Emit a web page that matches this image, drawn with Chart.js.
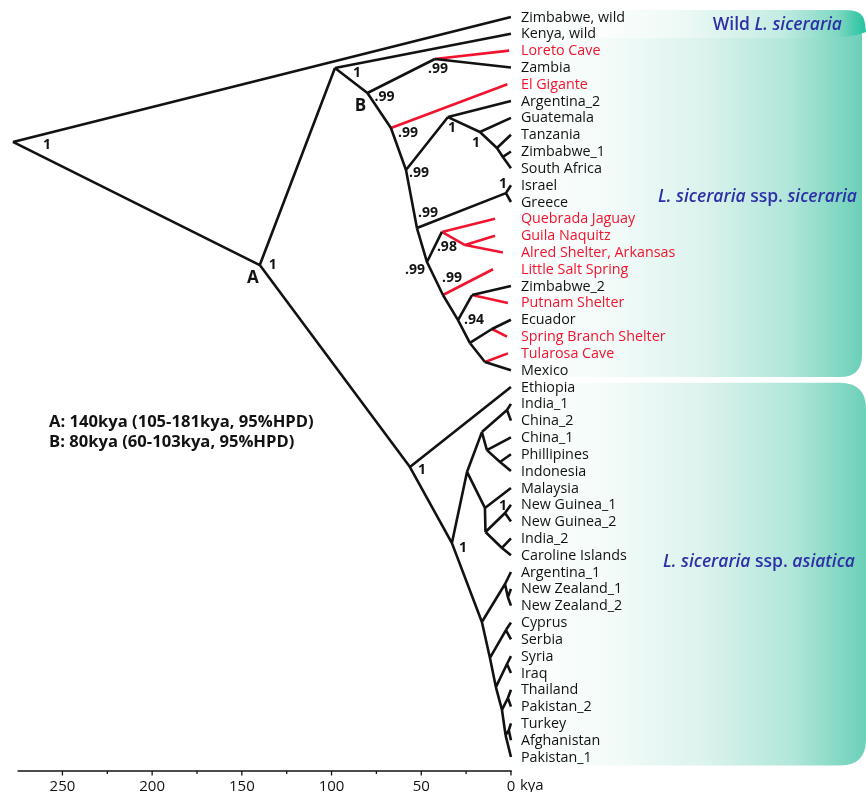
<!DOCTYPE html>
<html>
<head>
<meta charset="utf-8">
<script src="https://cdn.jsdelivr.net/npm/chart.js@4.4.1/dist/chart.umd.min.js"></script>
<style>
  html, body { margin: 0; padding: 0; background: #ffffff; overflow: hidden; }
  #wrap { width: 866px; height: 792px; }
</style>
</head>
<body>
<div id="wrap"><canvas id="tree" width="866" height="792"></canvas></div>
<script>
// ---- Tips, listed top to bottom ----
const tipNames = [
  'Zimbabwe, wild', 'Kenya, wild', 'Loreto Cave', 'Zambia', 'El Gigante', 'Argentina_2',
  'Guatemala', 'Tanzania', 'Zimbabwe_1', 'South Africa', 'Israel', 'Greece',
  'Quebrada Jaguay', 'Guila Naquitz', 'Alred Shelter, Arkansas', 'Little Salt Spring',
  'Zimbabwe_2', 'Putnam Shelter', 'Ecuador', 'Spring Branch Shelter', 'Tularosa Cave', 'Mexico',
  'Ethiopia', 'India_1', 'China_2', 'China_1', 'Phillipines', 'Indonesia', 'Malaysia',
  'New Guinea_1', 'New Guinea_2', 'India_2', 'Caroline Islands', 'Argentina_1',
  'New Zealand_1', 'New Zealand_2', 'Cyprus', 'Serbia', 'Syria', 'Iraq', 'Thailand',
  'Pakistan_2', 'Turkey', 'Afghanistan', 'Pakistan_1'
];

// Archaeological samples and their ages (kya); all other tips are modern (0 kya)
const ancientTips = [
  'Loreto Cave', 'El Gigante', 'Quebrada Jaguay', 'Guila Naquitz', 'Alred Shelter, Arkansas',
  'Little Salt Spring', 'Putnam Shelter', 'Spring Branch Shelter', 'Tularosa Cave'
];
const ancientAges = [1.0, 2.0, 8.9, 8.9, 4.5, 10.0, 1.7, 2.2, 1.7];

// ---- Internal nodes: age (kya), vertical position (tip-row units), children ----
const nodeIds = [
  'root', 'A', 'K', 'B', 'LZ', 'S1', 'S2', 'G1', 'G2', 'G3', 'G4', 'S3', 'IG', 'S4', 'Q', 'GA',
  'S5', 'S6', 'ZP', 'S7', 'ES', 'S8',
  'E', 'F', 'H', 'I', 'IC', 'J', 'PI', 'M', 'N', 'NG', 'IC2',
  'P', 'Q2', 'NZ', 'R1', 'CS', 'R2', 'SI', 'R3', 'TP', 'R4', 'TA'
];
const nodeAges = [
  277.6, 140, 98.1, 80, 42.4, 66.9, 58.5, 35.1, 17.3, 7.8, 4.5, 52.4, 2.8, 46.8, 38.5, 25.6,
  37.9, 29.5, 21.7, 22.9, 10.6, 14.5,
  56.3, 32.9, 24.5, 16.2, 2.2, 13.4, 6.1, 14.5, 14.2, 3.3, 5.0,
  16.2, 3.3, 1.7, 11.7, 2.8, 8.4, 2.2, 5.0, 1.7, 3.0, 1.2
];
const nodeRows = [
  7.43, 14.75, 3.03, 4.52, 2.5, 6.6, 9.1, 5.95, 6.84, 7.79, 8.32, 12.55, 10.47, 14.57, 12.78, 13.56,
  16.53, 18.02, 16.53, 19.38, 18.55, 20.51,
  26.76, 31.28, 27.05, 24.68, 23.37, 25.75, 26.46, 29.19, 30.62, 29.49, 31.57,
  35.97, 33.71, 34.5, 38.11, 36.45, 39.84, 38.47, 41.2, 40.49, 42.7, 42.4
];
const nodeChildren = [
  ['Zimbabwe, wild', 'A'], ['K', 'E'], ['Kenya, wild', 'B'], ['LZ', 'S1'],
  ['Loreto Cave', 'Zambia'], ['El Gigante', 'S2'], ['G1', 'S3'], ['Argentina_2', 'G2'],
  ['Guatemala', 'G3'], ['Tanzania', 'G4'], ['Zimbabwe_1', 'South Africa'], ['IG', 'S4'],
  ['Israel', 'Greece'], ['Q', 'S5'], ['Quebrada Jaguay', 'GA'],
  ['Guila Naquitz', 'Alred Shelter, Arkansas'], ['Little Salt Spring', 'S6'], ['ZP', 'S7'],
  ['Zimbabwe_2', 'Putnam Shelter'], ['ES', 'S8'], ['Ecuador', 'Spring Branch Shelter'],
  ['Tularosa Cave', 'Mexico'],
  ['Ethiopia', 'F'], ['H', 'P'], ['I', 'M'], ['IC', 'J'], ['India_1', 'China_2'],
  ['China_1', 'PI'], ['Phillipines', 'Indonesia'], ['Malaysia', 'N'], ['NG', 'IC2'],
  ['New Guinea_1', 'New Guinea_2'], ['India_2', 'Caroline Islands'],
  ['Q2', 'R1'], ['Argentina_1', 'NZ'], ['New Zealand_1', 'New Zealand_2'], ['CS', 'R2'],
  ['Cyprus', 'Serbia'], ['SI', 'R3'], ['Syria', 'Iraq'], ['TP', 'R4'],
  ['Thailand', 'Pakistan_2'], ['TA', 'Pakistan_1'], ['Turkey', 'Afghanistan']
];
// Posterior support shown at nodes
const nodeSupport = [
  '1', '1', '1', '.99', '.99', '.99', '.99', '1', '1', '', '', '.99', '1', '.99', '.98', '',
  '.99', '.94', '', '', '', '',
  '1', '1', '', '', '', '', '', '', '', '1', '',
  '', '', '', '', '', '', '', '', '', '', ''
];
const namedNodes = ['A', 'B'];

// Time axis (kya)
const axisTicks = [0, 25, 50, 75, 100, 125, 150, 175, 200, 225, 250];
const axisLabels = ['0', '', '50', '', '100', '', '150', '', '200', '', '250'];
const axisStartKya = 275;

// Clade boxes: first and last tip row of each
const groupLabels = [
  [['Wild ', false], ['L. siceraria', true]],
  [['L. siceraria', true], [' ssp. ', false], ['siceraria', true]],
  [['L. siceraria', true], [' ssp. ', false], ['asiatica', true]]
];
const groupFirstRow = [0, 2, 22];
const groupLastRow = [1, 21, 44];

const datingNotes = ['A: 140kya (105-181kya, 95%HPD)', 'B: 80kya (60-103kya, 95%HPD)'];

// ---- Build branch segments ----
const isNode = id => nodeIds.indexOf(id) >= 0;
function place(id) {
  const n = nodeIds.indexOf(id);
  if (n >= 0) return { x: nodeAges[n], y: nodeRows[n] };
  const a = ancientTips.indexOf(id);
  return { x: a >= 0 ? ancientAges[a] : 0, y: tipNames.indexOf(id) };
}
function allAncient(id) {
  const n = nodeIds.indexOf(id);
  if (n < 0) return ancientTips.indexOf(id) >= 0;
  return nodeChildren[n].every(allAncient);
}
const blackSegs = [], redSegs = [];
nodeIds.forEach((id, i) => {
  nodeChildren[i].forEach(ch => {
    const red = isNode(ch) ? (allAncient(ch) && allAncient(id)) : ancientTips.indexOf(ch) >= 0;
    (red ? redSegs : blackSegs).push(place(id), place(ch), { x: null, y: null });
  });
});

const INK = '#121212';
const RED = '#f2142e';
const BLUE = '#2e2fa6';
const SANS = '"Open Sans", "Noto Sans", sans-serif';

// Pixel offsets of support values and node letters from their nodes
const supportOffset = {
  root: [34, 3], A: [13, 0], K: [22, 5], B: [17, 4], LZ: [3, 10], S1: [17, 5], S2: [13, 3],
  G1: [4, 11], G2: [-4, 11], IG: [-3, -9], S3: [11, -15], Q: [5, 15], S4: [-12, 8],
  S5: [9, -17], S6: [16, 0], E: [12, 3], F: [11, 5], NG: [-2, -7]
};
const letterOffset = { A: [-7, 13], B: [-7, 13] };

function panelGradient(ctx, x0, x1, strong) {
  const g = ctx.createLinearGradient(x0, 0, x1, 0);
  if (strong) {
    g.addColorStop(0, 'rgba(255,255,255,1)');
    g.addColorStop(0.35, '#eef9f6');
    g.addColorStop(0.7, '#c3ece2');
    g.addColorStop(0.9, '#7fd8c3');
    g.addColorStop(1, '#22c29e');
  } else {
    g.addColorStop(0, 'rgba(255,255,255,1)');
    g.addColorStop(0.3, '#f3fbf9');
    g.addColorStop(0.55, '#dcf3ed');
    g.addColorStop(0.8, '#b0e6d9');
    g.addColorStop(1, '#6cd0b8');
  }
  return g;
}

function roundedRightRect(ctx, x0, y0, x1, y1, r) {
  ctx.beginPath();
  ctx.moveTo(x0, y0);
  ctx.lineTo(x1 - r, y0);
  ctx.quadraticCurveTo(x1, y0, x1, y0 + r);
  ctx.lineTo(x1, y1 - r);
  ctx.quadraticCurveTo(x1, y1, x1 - r, y1);
  ctx.lineTo(x0, y1);
  ctx.closePath();
}

function drawStyledRight(ctx, parts, right, y, size) {
  const fontOf = it => (it ? 'italic ' : '') + '600 ' + size + 'px ' + SANS;
  let total = 0;
  parts.forEach(p => { ctx.font = fontOf(p[1]); total += ctx.measureText(p[0]).width; });
  let x = right - total;
  ctx.textAlign = 'left';
  ctx.textBaseline = 'middle';
  ctx.fillStyle = BLUE;
  parts.forEach(p => {
    ctx.font = fontOf(p[1]);
    ctx.fillText(p[0], x, y);
    x += ctx.measureText(p[0]).width;
  });
}

const panels = {
  id: 'panels',
  beforeDatasetsDraw(chart) {
    const ctx = chart.ctx;
    const xs = chart.scales.x, ys = chart.scales.y;
    const x0 = xs.getPixelForValue(4);
    ctx.save();
    // ssp. siceraria
    let top = ys.getPixelForValue(groupFirstRow[0] - 0.4);
    let bot = ys.getPixelForValue(groupLastRow[1] + 0.4);
    roundedRightRect(ctx, x0, top, 862, bot, 22);
    ctx.fillStyle = panelGradient(ctx, x0, 862, false);
    ctx.fill();
    // ssp. asiatica
    top = ys.getPixelForValue(groupFirstRow[2] - 0.25);
    bot = ys.getPixelForValue(groupLastRow[2] + 0.5);
    roundedRightRect(ctx, x0, top, 866, bot, 26);
    ctx.fillStyle = panelGradient(ctx, x0, 866, false);
    ctx.fill();
    // wild band with a pointed right end
    top = ys.getPixelForValue(groupFirstRow[0] - 0.4);
    bot = ys.getPixelForValue(groupLastRow[0] + 0.25);
    const xb = xs.getPixelForValue(-40);
    ctx.beginPath();
    ctx.moveTo(xb, top);
    ctx.lineTo(848, top);
    ctx.quadraticCurveTo(864, top, 865, top + 14);
    ctx.lineTo(866, bot - 6);
    ctx.quadraticCurveTo(850, bot, 820, bot);
    ctx.lineTo(xb, bot);
    ctx.closePath();
    ctx.fillStyle = panelGradient(ctx, xb, 866, true);
    ctx.fill();
    ctx.restore();
  },
  afterDatasetsDraw(chart) {
    const ctx = chart.ctx;
    const xs = chart.scales.x, ys = chart.scales.y;
    const x0 = xs.getPixelForValue(0);
    ctx.save();

    // tip labels
    ctx.font = '14.3px ' + SANS;
    ctx.textAlign = 'left';
    ctx.textBaseline = 'middle';
    tipNames.forEach((name, i) => {
      ctx.fillStyle = ancientTips.indexOf(name) >= 0 ? RED : INK;
      ctx.fillText(name, x0 + 10, ys.getPixelForValue(i) + 0.5);
    });

    // support values
    ctx.font = 'bold 14px ' + SANS;
    ctx.textAlign = 'center';
    ctx.fillStyle = INK;
    nodeIds.forEach((id, i) => {
      if (!nodeSupport[i]) return;
      const off = supportOffset[id] || [10, 8];
      ctx.fillText(nodeSupport[i], xs.getPixelForValue(nodeAges[i]) + off[0],
                   ys.getPixelForValue(nodeRows[i]) + off[1]);
    });
    // node letters
    ctx.font = '700 17px ' + SANS;
    namedNodes.forEach(id => {
      const i = nodeIds.indexOf(id);
      const off = letterOffset[id];
      ctx.fillText(id, xs.getPixelForValue(nodeAges[i]) + off[0],
                   ys.getPixelForValue(nodeRows[i]) + off[1]);
    });

    // dating notes
    ctx.font = '700 16.6px ' + SANS;
    ctx.textAlign = 'left';
    datingNotes.forEach((t, k) => ctx.fillText(t, 49, 422 + k * 20.5));

    // clade names
    drawStyledRight(ctx, groupLabels[0], 842, ys.getPixelForValue(0.5), 17.5);
    drawStyledRight(ctx, groupLabels[1], 857, ys.getPixelForValue(10.7), 17.5);
    drawStyledRight(ctx, groupLabels[2], 855, ys.getPixelForValue(32.4), 17.5);

    // time axis line and tick marks
    const yAxis = chart.chartArea.bottom;
    ctx.strokeStyle = INK;
    ctx.fillStyle = INK;
    ctx.lineWidth = 1.6;
    ctx.beginPath();
    ctx.moveTo(xs.getPixelForValue(axisStartKya), yAxis);
    ctx.lineTo(xs.getPixelForValue(0) + 0.8, yAxis);
    ctx.stroke();
    ctx.lineWidth = 1.3;
    axisTicks.forEach((v, k) => {
      const px = xs.getPixelForValue(v);
      ctx.beginPath();
      ctx.moveTo(px, yAxis);
      ctx.lineTo(px, yAxis + (axisLabels[k] ? 4.5 : 3));
      ctx.stroke();
    });
    ctx.font = '15px ' + SANS;
    ctx.textAlign = 'left';
    ctx.textBaseline = 'middle';
    ctx.fillText('kya', x0 + 9, yAxis + 15);
    ctx.restore();
  }
};

const lineStyle = {
  showLine: true, pointRadius: 0, borderWidth: 2.6, tension: 0, spanGaps: false,
  borderJoinStyle: 'round', borderCapStyle: 'butt', fill: false
};

new Chart(document.getElementById('tree'), {
  type: 'scatter',
  data: {
    datasets: [
      Object.assign({ label: 'modern', data: blackSegs, borderColor: INK }, lineStyle),
      Object.assign({ label: 'ancient', data: redSegs, borderColor: RED }, lineStyle)
    ]
  },
  options: {
    responsive: false,
    animation: false,
    events: [],
    layout: { padding: 0 },
    plugins: { legend: { display: false }, tooltip: { enabled: false }, title: { display: false } },
    scales: {
      x: {
        type: 'linear', reverse: true, min: -197.9, max: 284.8,
        afterBuildTicks: s => { s.ticks = axisTicks.map(v => ({ value: v })); },
        afterFit: s => { s.height = 21; },
        grid: { display: false, drawTicks: false },
        border: { display: false },
        ticks: {
          autoSkip: false, maxRotation: 0, padding: 7,
          color: INK, font: { family: SANS, size: 15 },
          callback: (v, i) => axisLabels[i]
        }
      },
      y: {
        type: 'linear', reverse: true, min: -1.01, max: 44.83, display: false
      }
    }
  },
  plugins: [panels]
});
</script>
</body>
</html>
